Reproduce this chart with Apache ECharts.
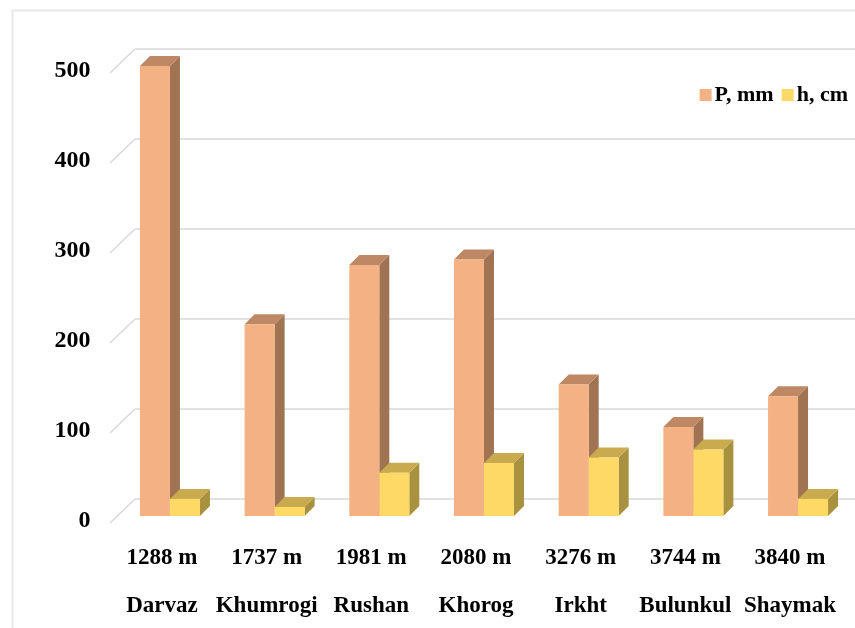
<!DOCTYPE html>
<html>
<head>
    <meta charset="utf-8">
    <title>P and h by station</title>
    <script src="https://cdn.jsdelivr.net/npm/echarts@6/dist/echarts.min.js"></script>
    <style>
        html, body { margin: 0; padding: 0; background: #fff; }
        #main { width: 855px; height: 628px; }
    </style>
</head>
<body>
<div id="main"></div>
<script type="text/javascript">
// data
var elevations = ['1288 m', '1737 m', '1981 m', '2080 m', '3276 m', '3744 m', '3840 m'];
var stations = ['Darvaz', 'Khumrogi', 'Rushan', 'Khorog', 'Irkht', 'Bulunkul', 'Shaymak'];
var precip = [500, 213, 279, 285, 146, 99, 133];   // P, mm
var snow = [19, 10, 48, 59, 65, 74, 19];           // h, cm
var yTicks = [0, 100, 200, 300, 400, 500];

var font = '"Liberation Serif", "Times New Roman", serif';
var colors = [
    { front: '#F4B183', side: '#A07352', top: '#BE8864' },
    { front: '#FFD966', side: '#A8923F', top: '#C9AA4E' }
];

// a bar with a small 3D side and top
function barItem(params, api) {
    var s = params.seriesIndex;
    var c = api.coord([api.value(0), api.value(1)]);
    var b = api.coord([api.value(0), 0]);
    var w = 30, d = 10;
    var x0 = s === 0 ? c[0] - w : c[0];
    var col = colors[s];
    return {
        type: 'group',
        children: [
            { type: 'polygon', shape: { points: [[x0 + w, c[1]], [x0 + w + d, c[1] - d], [x0 + w + d, b[1] - d], [x0 + w, b[1]]] },
              style: { fill: col.side } },
            { type: 'polygon', shape: { points: [[x0, c[1]], [x0 + d, c[1] - d], [x0 + w + d, c[1] - d], [x0 + w, c[1]]] },
              style: { fill: col.top } },
            { type: 'rect', shape: { x: x0, y: c[1], width: w, height: b[1] - c[1] },
              style: { fill: col.front } }
        ]
    };
}

// slanted lines at the left of the back wall
function wallItem(params, api) {
    var p = api.coord([0, api.value(1)]);
    return {
        type: 'line',
        shape: { x1: p[0] - 25, y1: p[1] + 24, x2: p[0], y2: p[1] },
        style: { stroke: '#d9d9d9', lineWidth: 1.5 }
    };
}

var chart = echarts.init(document.getElementById('main'));
chart.setOption({
    animation: false,
    graphic: [{
        type: 'rect', left: 10, top: 8,
        shape: { width: 900, height: 700 },
        style: { fill: 'none', stroke: '#e8e8e8', lineWidth: 2 },
        z: -10
    }],
    legend: {
        right: 2, top: 79,
        icon: 'rect', itemWidth: 12, itemHeight: 12, itemGap: 8,
        textStyle: { fontFamily: font, fontWeight: 'bold', fontSize: 22, color: '#000', padding: [0, 0, 0, -2] },
        data: ['P, mm', 'h, cm']
    },
    grid: [
        { left: 117.6, right: 3.8, top: 66, bottom: 112 },
        { left: 135, right: 0, top: 49, bottom: 129 }
    ],
    xAxis: [
        {
            gridIndex: 0, type: 'category', data: stations,
            axisLine: { show: false }, axisTick: { show: false },
            axisLabel: {
                margin: 18, interval: 0,
                formatter: function (v, i) { return '{a|' + elevations[i] + '}\n{a|' + v + '}'; },
                rich: { a: { fontFamily: font, fontWeight: 'bold', fontSize: 23, color: '#000', lineHeight: 48, padding: [0, 16, 0, 0] } }
            }
        },
        { gridIndex: 1, type: 'value', min: 0, max: 1, show: false }
    ],
    yAxis: [
        {
            gridIndex: 0, type: 'value', min: 0, max: 500, interval: 100,
            axisLine: { show: false }, axisTick: { show: false }, splitLine: { show: false },
            axisLabel: { margin: 27, fontFamily: font, fontWeight: 'bold', fontSize: 24, color: '#000',
                         verticalAlign: 'top', lineHeight: 10 }
        },
        {
            gridIndex: 1, type: 'value', min: 0, max: 500, interval: 100,
            axisLine: { show: false }, axisTick: { show: false }, axisLabel: { show: false },
            splitLine: { lineStyle: { color: '#d9d9d9', width: 1.5 } }
        }
    ],
    series: [
        {
            name: 'P, mm', type: 'custom', xAxisIndex: 0, yAxisIndex: 0,
            itemStyle: { color: colors[0].front },
            renderItem: barItem, encode: { x: 0, y: 1 },
            data: precip.map(function (v, i) { return [i, v]; }), z: 3
        },
        {
            name: 'h, cm', type: 'custom', xAxisIndex: 0, yAxisIndex: 0,
            itemStyle: { color: colors[1].front },
            renderItem: barItem, encode: { x: 0, y: 1 },
            data: snow.map(function (v, i) { return [i, v]; }), z: 4
        },
        {
            type: 'custom', xAxisIndex: 1, yAxisIndex: 1, silent: true,
            renderItem: wallItem, encode: { x: 0, y: 1 },
            data: yTicks.map(function (v) { return [0, v]; }), z: 1
        }
    ]
});
</script>
</body>
</html>
